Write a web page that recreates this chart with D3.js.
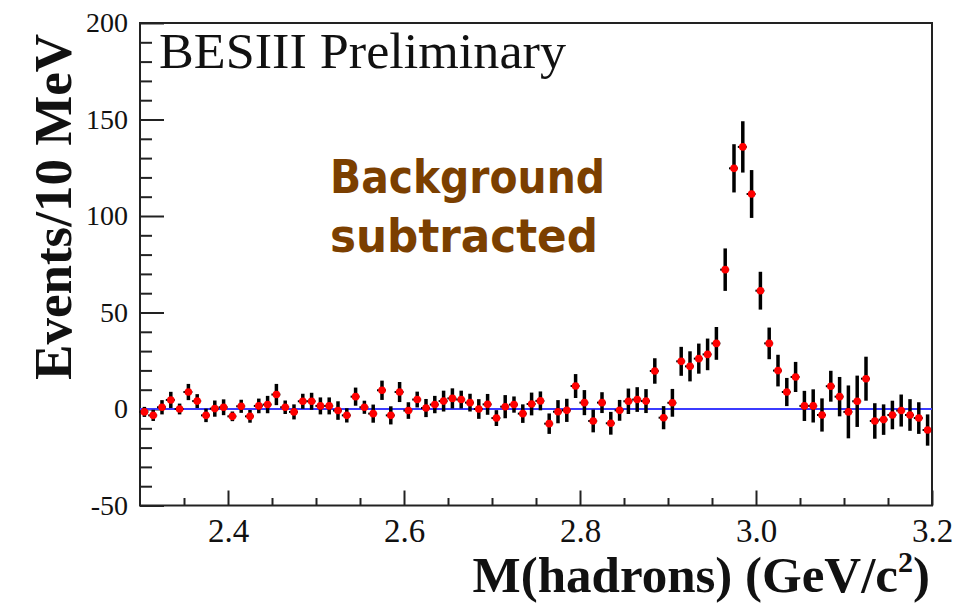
<!DOCTYPE html>
<html>
<head>
<meta charset="utf-8">
<script src="https://cdn.jsdelivr.net/npm/d3@7"></script>
<style>
  body { margin: 0; background: #fff; }
  svg { display: block; }
</style>
</head>
<body>
<svg id="chart" width="953" height="603"></svg>
<script>
// binning: 10 MeV bins from 2.3 to 3.2 GeV/c2
var binLow = 2.3, binWidth = 0.01;

// background subtracted events per bin
var events = [
  -1.5, -3.3, 0.9, 4.7, 0.0, 8.8, 4.1, -3.3, 0.2, 0.9,
  -3.8, 1.4, -3.8, 1.6, 2.3, 7.5, 0.9, -1.5, 4.0, 4.0,
  1.6, 1.6, -0.8, -3.3, 6.4, 0.9, -2.4, 9.7, -3.3, 8.8,
  -0.8, 4.9, 0.5, 2.3, 4.1, 5.5, 4.9, 3.3, 0.0, 2.4,
  -4.7, 1.2, 2.3, -2.4, 2.6, 4.2, -7.6, -1.4, -0.7, 11.9,
  3.3, -6.2, 3.3, -7.4, -0.7, 4.0, 4.9, 4.1, 19.7, -4.5,
  3.2, 24.7, 22.1, 26.1, 28.3, 34.0, 72.2, 124.7, 135.8, 111.4,
  61.3, 34.0, 19.9, 8.8, 16.6, 1.6, 1.6, -3.1, 11.8, 6.4,
  -1.5, 4.0, 15.7, -6.2, -5.5, -3.1, -0.8, -3.1, -4.7, -10.9
];

var errors = [
  2.6, 2.9, 3.7, 4.2, 2.8, 4.2, 3.6, 3.5, 4.2, 4.1,
  2.5, 3.4, 3.3, 3.8, 4.5, 5.5, 3.5, 3.9, 3.9, 4.4,
  4.4, 4.4, 4.8, 3.7, 4.7, 3.4, 4.7, 5.0, 4.7, 5.2,
  4.3, 4.1, 4.7, 4.5, 5.4, 5.2, 4.6, 4.6, 5.1, 5.4,
  4.1, 6.0, 4.2, 4.8, 5.9, 4.9, 5.3, 6.0, 6.0, 6.2,
  6.5, 5.9, 5.4, 5.9, 5.4, 6.6, 6.4, 6.2, 6.6, 6.0,
  7.2, 7.5, 7.8, 7.8, 8.2, 8.5, 11.0, 12.5, 13.3, 12.4,
  9.8, 8.2, 8.2, 7.3, 7.8, 7.8, 8.6, 8.6, 8.0, 10.2,
  13.7, 13.3, 11.4, 9.2, 7.9, 7.4, 8.3, 8.2, 8.2, 8.1
];

var xMajorTicks = [2.4, 2.6, 2.8, 3.0, 3.2];
var xMinorTicks = [2.35, 2.45, 2.5, 2.55, 2.65, 2.7, 2.75, 2.85, 2.9, 2.95, 3.05, 3.1, 3.15];
var yMajorTicks = [-50, 0, 50, 100, 150, 200];
var yMinorTicks = [-40, -30, -20, -10, 10, 20, 30, 40, 60, 70, 80, 90,
                   110, 120, 130, 140, 160, 170, 180, 190];

var svg = d3.select("#chart");
var margin = {left: 140, right: 21, top: 23, bottom: 97.5};
var W = 953, H = 603;
var plotW = W - margin.left - margin.right;
var plotH = H - margin.top - margin.bottom;

var x = d3.scaleLinear().domain([2.3, 3.2]).range([0, plotW]);
var y = d3.scaleLinear().domain([-50, 200]).range([plotH, 0]);

var g = svg.append("g")
    .attr("transform", "translate(" + margin.left + "," + margin.top + ")");

var axisColor = "#222";
var serif = "'Liberation Serif', 'Times New Roman', serif";

// ROOT style labels use a plain hyphen for negatives
function intLabel(d) { return String(d); }

// y axis, ticks point into the frame
g.append("g")
    .attr("class", "yminor")
    .call(d3.axisLeft(y).tickValues(yMinorTicks).tickSize(-12).tickSizeOuter(0).tickFormat(""));
g.append("g")
    .attr("class", "ymajor")
    .call(d3.axisLeft(y).tickValues(yMajorTicks).tickSize(-24).tickSizeOuter(0).tickPadding(12)
        .tickFormat(intLabel));

// x axis
g.append("g")
    .attr("class", "xminor")
    .attr("transform", "translate(0," + plotH + ")")
    .call(d3.axisBottom(x).tickValues(xMinorTicks).tickSize(-7.5).tickSizeOuter(0).tickFormat(""));
g.append("g")
    .attr("class", "xmajor")
    .attr("transform", "translate(0," + plotH + ")")
    .call(d3.axisBottom(x).tickValues(xMajorTicks).tickSize(-15).tickSizeOuter(0).tickPadding(36)
        .tickFormat(d3.format(".1f")));

g.selectAll(".domain").remove();
g.selectAll(".tick line")
    .attr("stroke", axisColor)
    .attr("stroke-width", 2);
g.selectAll(".tick text")
    .attr("fill", "#111")
    .style("font-family", serif)
    .style("font-size", "28px");
g.selectAll(".xmajor .tick text")
    .attr("dy", null)
    .style("font-size", "33px");

// frame
g.append("rect")
    .attr("x", 0).attr("y", 0)
    .attr("width", plotW).attr("height", plotH)
    .attr("fill", "none")
    .attr("stroke", axisColor)
    .attr("stroke-width", 2);

// zero line
g.append("line")
    .attr("x1", 0).attr("x2", plotW)
    .attr("y1", y(0)).attr("y2", y(0))
    .attr("stroke", "#3b3bff")
    .attr("stroke-width", 2);

var pts = events.map(function (v, i) {
    return {m: binLow + binWidth * (i + 0.5), v: v, e: errors[i]};
});

var pg = g.append("g").attr("class", "points");

// error bars
pg.selectAll(".ebar")
    .data(pts).enter()
    .append("line")
    .attr("class", "ebar")
    .attr("x1", function (d) { return x(d.m); })
    .attr("x2", function (d) { return x(d.m); })
    .attr("y1", function (d) { return y(d.v + d.e); })
    .attr("y2", function (d) { return y(d.v - d.e); })
    .attr("stroke", "#000")
    .attr("stroke-width", 3.5);

pg.selectAll(".hbar")
    .data(pts).enter()
    .append("line")
    .attr("class", "hbar")
    .attr("x1", function (d) { return x(d.m) - 5; })
    .attr("x2", function (d) { return x(d.m) + 4; })
    .attr("y1", function (d) { return y(d.v); })
    .attr("y2", function (d) { return y(d.v); })
    .attr("stroke", "#000")
    .attr("stroke-width", 2);

pg.selectAll(".marker")
    .data(pts).enter()
    .append("circle")
    .attr("class", "marker")
    .attr("cx", function (d) { return x(d.m); })
    .attr("cy", function (d) { return y(d.v); })
    .attr("r", 3.8)
    .attr("fill", "#ff0000");

// texts
svg.append("text")
    .attr("x", 159).attr("y", 68)
    .attr("textLength", 407).attr("lengthAdjust", "spacingAndGlyphs")
    .style("font-family", serif)
    .style("font-size", "50px")
    .attr("fill", "#111")
    .text("BESIII Preliminary");

var brown = "#7b3f00";
svg.append("text")
    .attr("x", 330).attr("y", 193)
    .attr("textLength", 275).attr("lengthAdjust", "spacingAndGlyphs")
    .style("font-family", "'DejaVu Sans', sans-serif")
    .style("font-weight", "bold")
    .style("font-size", "46px")
    .attr("fill", brown)
    .text("Background");
svg.append("text")
    .attr("x", 330).attr("y", 252)
    .attr("textLength", 268).attr("lengthAdjust", "spacingAndGlyphs")
    .style("font-family", "'DejaVu Sans', sans-serif")
    .style("font-weight", "bold")
    .style("font-size", "46px")
    .attr("fill", brown)
    .text("subtracted");

svg.append("text")
    .attr("transform", "translate(71,207) rotate(-90)")
    .attr("text-anchor", "middle")
    .style("font-family", serif)
    .style("font-weight", "bold")
    .style("font-size", "53px")
    .attr("fill", "#111")
    .text("Events/10 MeV");

var xt = svg.append("text")
    .attr("x", 930).attr("y", 592)
    .attr("text-anchor", "end")
    .style("font-family", serif)
    .style("font-weight", "bold")
    .style("font-size", "51px")
    .attr("fill", "#111");
xt.append("tspan").text("M(hadrons) (GeV/c");
xt.append("tspan").attr("dy", -20).style("font-size", "30px").text("2");
xt.append("tspan").attr("dy", 20).text(")");
</script>
</body>
</html>
